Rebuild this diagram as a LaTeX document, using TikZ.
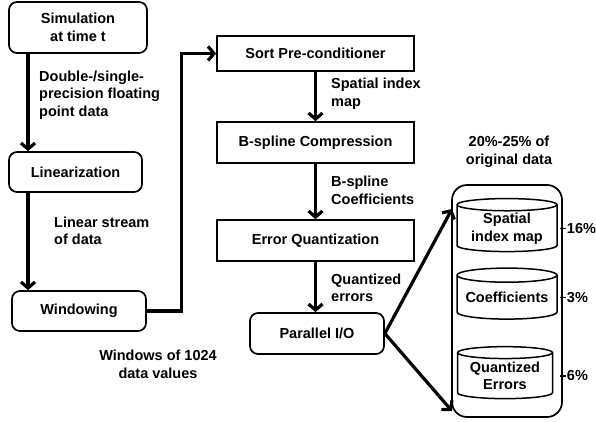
\documentclass[tikz,border=0pt]{standalone}
\usepackage{fontspec}
\setmainfont{Liberation Sans}
\usetikzlibrary{shapes.geometric,arrows.meta}

\begin{document}
\begin{tikzpicture}[x=1pt,y=-1pt,
 every node/.style={font=\bfseries\fontsize{14.5}{17.5}\selectfont},
 rbox/.style={draw,line width=1.7pt,rounded corners=8pt,inner sep=0pt},
 sbox/.style={draw,line width=1.7pt,inner sep=0pt,minimum width=197pt},
 flow/.style={line width=3.2pt,-{Straight Barb[length=6pt,width=14pt]}},
 disk/.style={draw,line width=1.5pt,cylinder,shape border rotate=90,aspect=0.17,inner sep=0pt,align=center},
 lbl/.style={align=left,anchor=west,inner sep=0pt}]
\useasboundingbox (0,0) rectangle (596,422);
% input side
\node[rbox,minimum width=138pt,minimum height=51pt,align=center] (sim) at (78,27.5) {Simulation\\at time t};
\node[rbox,minimum width=133pt,minimum height=40pt] (lin) at (75.5,172) {Linearization};
\node[rbox,minimum width=134pt,minimum height=40pt] (win) at (79,311) {Windowing};
\coordinate (ax) at (28,0);
\draw[flow] (sim.south -| ax) -- (lin.north -| ax);
\draw[flow] (lin.south -| ax) -- (win.north -| ax);
\node[lbl] (dtype) at (39,95) {Double-/single-\\precision floating\\point data};
\node[lbl] (stream) at (54,231) {Linear stream\\of data};
\node[align=center] (wsize) at (158,364.5) {Windows of 1024\\data values};
% compression pipeline
\node[sbox,minimum height=35pt] (sort) at (315.5,53.5) {Sort Pre-conditioner};
\node[sbox,minimum height=41pt] (bsp) at (315.5,142.5) {B-spline Compression};
\node[sbox,minimum height=41pt] (errq) at (315.5,240.5) {Error Quantization};
\node[rbox,minimum width=134pt,minimum height=41pt] (pio) at (317,333.5) {Parallel I/O};
\draw[flow] (win.east) -- ++(35,0) |- (sort.west);
\draw[flow] (sort) -- (bsp);
\draw[flow] (bsp) -- (errq);
\draw[flow] (errq.south) -- (errq.south |- pio.north);
\node[lbl] (sidx) at (331,94) {Spatial index\\map};
\node[lbl] (coef) at (331,190.5) {B-spline\\Coefficients};
\node[lbl] (qerr) at (331,288) {Quantized\\errors};
% output storage
\node[align=center] (frac) at (509,152) {20\%-25\% of\\original data};
\node[rbox,rounded corners=15pt,minimum width=110pt,minimum height=232pt] (store) at (507,301) {};
\node[disk,minimum width=100pt,minimum height=53pt] (cyl1) at (507,228.5) {Spatial\\index map};
\node[disk,minimum width=100pt,minimum height=51pt] (cyl2) at (507,297.5) {Coefficients};
\node[disk,minimum width=95pt,minimum height=52pt] (cyl3) at (505,376) {Quantized\\Errors};
\coordinate (intop) at (452,209);
\coordinate (inbot) at (452,411);
\draw[flow] (pio.east) -- (intop);
\draw[flow] (pio.east) -- (inbot);
\foreach \c/\p in {cyl1/16\%,cyl2/3\%,cyl3/6\%}
 \draw[line width=1.2pt] ([xshift=-3pt]\c -| store.east) -- ++(6,0) node[right,inner sep=0.5pt] (p\c) {\p};
\end{tikzpicture}
\end{document}
